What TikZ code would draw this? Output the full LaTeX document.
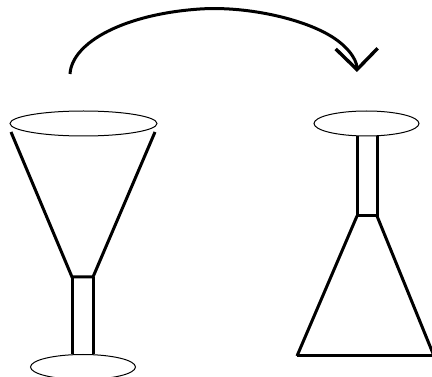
\documentclass[tikz,border=0pt]{standalone}
\usetikzlibrary{arrows.meta,shapes.geometric}
\tikzset{
  rimwide/.style={
    ellipse,
    draw=black,
    line width=1pt,
    inner sep=0pt,
    minimum width=147pt,
    minimum height=25pt
  },
  rimnarrow/.style={
    rimwide,
    minimum width=105pt
  },
  glassline/.style={
    line width=3pt,
    draw=black
  },
  swaparrow/.style={
    -{Straight Barb[length=21pt,width=42pt,line width=3.4pt]},
    line width=3pt,
    draw=black
  }
}

\begin{document}
\begin{tikzpicture}[x=1pt,y=-1pt]
    \useasboundingbox (0,0) rectangle (432,377);
    \clip (0,0) rectangle (432,377);

    % funnel side, wide end up
    \node (funneltop) [rimwide] at (83.5,123.5) {};
    \node (funnelfoot) [rimnarrow] at (83,367) {};
    \coordinate (funnelneckl) at (72,277);
    \coordinate (funnelneckr) at (93,277);
    \draw[glassline] (11,132) -- (funnelneckl) -- (funnelneckr) -- (155,132);
    \draw[glassline] (funnelneckl) -- (funnelfoot.north -| funnelneckl);
    \draw[glassline] (funnelneckr) -- (funnelfoot.north -| funnelneckr);

    % cone side, wide end down
    \node (conetop) [rimnarrow] at (366.5,123.5) {};
    \coordinate (coneneckl) at (357,216);
    \coordinate (coneneckr) at (377,216);
    \draw[glassline] (conetop.south -| coneneckl) -- (coneneckl) -- (coneneckr) -- (conetop.south -| coneneckr);
    \draw[glassline] (297,356) -- (coneneckl);
    \draw[glassline] (coneneckr) -- (434,356);
    \draw[glassline] (297,356) -- (434,356);

    % turning over
    \coordinate (swapstart) at (70,74);
    \coordinate (swaptop) at (200,9);
    \coordinate (swapbend) at (329,35);
    \coordinate (swapend) at (357,72);
    \draw[swaparrow] (swapstart) .. controls (72,42) and (125,14) .. (swaptop)
      .. controls (245,6) and (300,18) .. (swapbend)
      .. controls (345,44) and (356.8,58) .. (swapend);
\end{tikzpicture}
\end{document}
